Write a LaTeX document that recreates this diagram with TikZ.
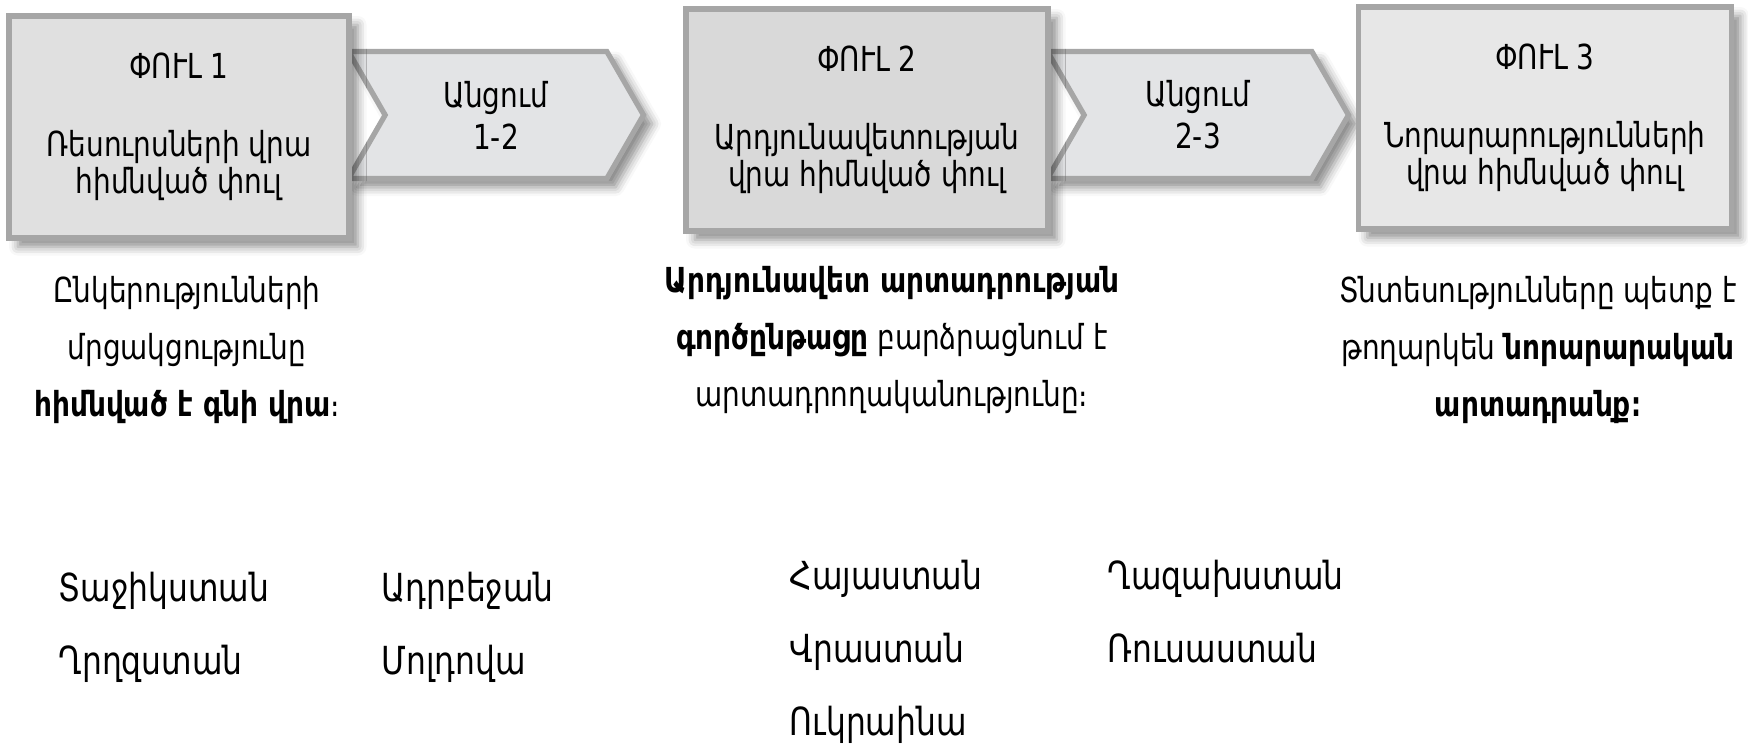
\documentclass[tikz,border=0pt]{standalone}
\usepackage{fontspec}
\setmainfont{DejaVu Sans Condensed}[FakeStretch=0.9]
\usetikzlibrary{positioning,shapes.symbols,shadows.blur}
\definecolor{boxline}{HTML}{A6A6A6}
\definecolor{phaseA}{HTML}{E0E0E0}
\definecolor{phaseB}{HTML}{D9D9D9}
\definecolor{phaseC}{HTML}{E7E7E7}
\definecolor{passfill}{HTML}{E3E4E6}

\begin{document}
\begin{tikzpicture}[
    x=0.1mm, y=-0.1mm,
    node distance=3.4mm,
    font=\fontsize{9.8}{10.5}\selectfont,
    myshadow/.style={blur shadow={shadow xshift=2.5pt, shadow yshift=-2.5pt, shadow blur radius=2.5pt, shadow opacity=45}},
    phase/.style={draw=boxline, line width=1.5pt, align=center, inner sep=0pt, minimum height=22.2mm, myshadow},
    pass/.style={signal, signal from=west, signal to=east, signal pointer angle=120, draw=boxline, fill=passfill,
        line width=1.5pt, align=center, minimum height=12.7mm, inner sep=0pt, myshadow},
    note/.style={align=center, font=\fontsize{9.8}{16.2}\selectfont},
    country/.style={anchor=west, inner sep=0pt, font=\fontsize{11}{12}\selectfont}
]
    \useasboundingbox (0,0) rectangle (1748,743);

    % Transitions (behind the phases)
    \node [pass, minimum width=29.5mm] (pass12) at (496,115) {Անցում\\[1.5pt]1-2};
    \node [pass, minimum width=30.1mm] (pass23) at (1198,115) {Անցում\\[1.5pt]2-3};

    % Phases
    \node [phase, fill=phaseA, minimum width=34mm] (phase1) at (179,127) {ՓՈՒԼ 1\\[11.7pt]Ռեսուրսների վրա\\հիմնված փուլ};
    \node [phase, fill=phaseB, minimum width=36.2mm] (phase2) at (867,120) {ՓՈՒԼ 2\\[11.7pt]Արդյունավետության\\վրա հիմնված փուլ};
    \node [phase, fill=phaseC, minimum width=37.3mm] (phase3) at (1545,118) {ՓՈՒԼ 3\\[11.7pt]Նորարարությունների\\վրա հիմնված փուլ};

    % Descriptions
    \node [note] (desc1) at (187,350) {Ընկերությունների\\մրցակցությունը\\\textbf{հիմնված է գնի վրա}։};
    \node [note] (desc2) at (892,340) {\textbf{Արդյունավետ արտադրության}\\\textbf{գործընթացը} բարձրացնում է\\արտադրողականությունը։};
    \node [note] (desc3) at (1538,350) {Տնտեսությունները պետք է\\թողարկեն \textbf{նորարարական}\\\textbf{արտադրանք։}};

    % Countries
    \node [country] (taj) at (58,591) {Տաջիկստան};
    \node [country] (aze) at (381,591) {Ադրբեջան};
    \node [country, below=of taj.south west, anchor=north west] (kyr) {Ղրղզստան};
    \node [country, below=of aze.south west, anchor=north west] (mol) {Մոլդովա};
    \node [country] (arm) at (789,579) {Հայաստան};
    \node [country] (kaz) at (1107,579) {Ղազախստան};
    \node [country, below=of arm.south west, anchor=north west] (geo) {Վրաստան};
    \node [country, below=of kaz.south west, anchor=north west] (rus) {Ռուսաստան};
    \node [country, below=of geo.south west, anchor=north west] (ukr) {Ուկրաինա};
\end{tikzpicture}
\end{document}
